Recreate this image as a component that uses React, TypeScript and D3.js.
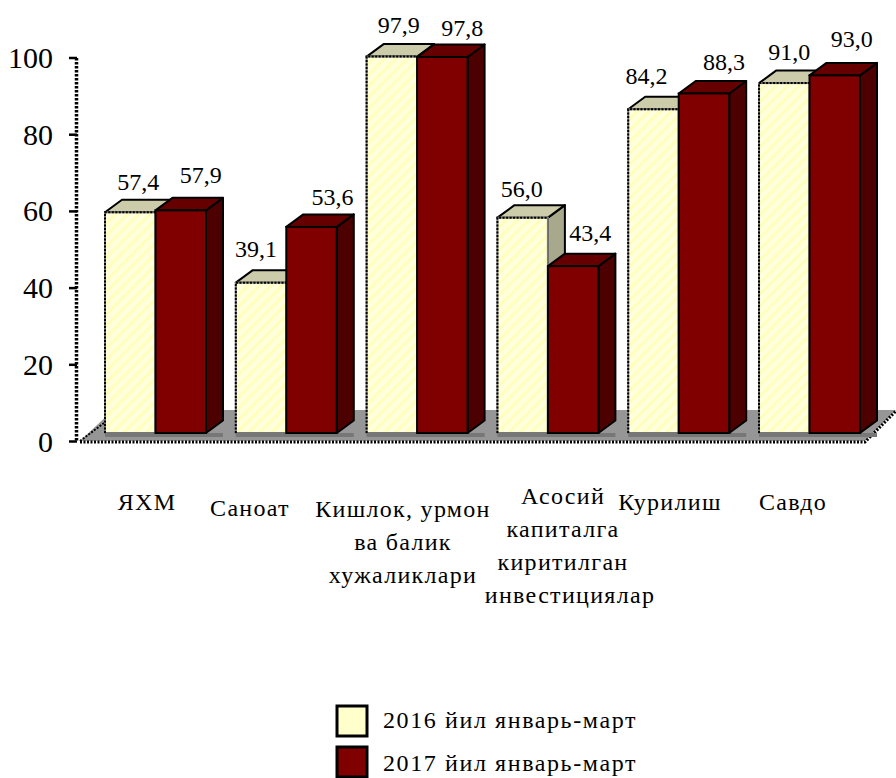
import React from 'react';
import * as d3 from 'd3';

const categories = ['ЯХМ', 'Саноат', 'Кишлок, урмон|ва балик|хужаликлари', 'Асосий|капиталга|киритилган|инвестициялар', 'Курилиш', 'Савдо'];
const values2016 = [57.4, 39.1, 97.9, 56.0, 84.2, 91.0];
const values2017 = [57.9, 53.6, 97.8, 43.4, 88.3, 93.0];
const seriesNames = ['2016 йил январь-март', '2017 йил январь-март'];
const yTicks = [0, 20, 40, 60, 80, 100];
const labelDx = [[8, 20], [-5, 21], [7, 20], [-1, 17], [-7, 20], [5, 17]];
const labelDy = [[-22, -27], [-26, -22], [-24, -21], [-21, -25], [-25, -23], [-23, -28]];
const catCenters = [147, 250, 403, 563, 670, 793];
const catTop = [510, 516, 517, 504, 510, 510];

const F = '"Liberation Serif", serif';
const fmt = (v: number) => v.toFixed(1).replace('.', ',');

export default function App() {
  const x = d3.scaleBand<string>().domain(categories).range([105, 860]).paddingInner(0.228).paddingOuter(0);
  const yBar = d3.scaleLinear().domain([0, 100]).range([433, 48.5]);
  const yAxis = d3.scaleLinear().domain([0, 100]).range([441.5, 58]);
  const dx = 17, dy = 12.5;
  const bw = x.bandwidth() / 2;
  const colors = [
    { front: 'url(#hatch)', top: '#CCCCAA', side: '#A8A88C' },
    { front: '#800000', top: '#660000', side: '#4D0000' },
  ];
  const bar = (bx: number, v: number, s: number, key: string) => {
    const y0 = yBar(0), y1 = yBar(v), c = colors[s];
    const edge = { stroke: '#000', strokeWidth: 2 };
    return (
      <g key={key}>
        <polygon points={`${bx + bw},${y1} ${bx + bw + dx},${y1 - dy} ${bx + bw + dx},${y0 - dy} ${bx + bw},${y0}`} fill={c.side} {...edge} strokeLinejoin="round" />
        <polygon points={`${bx},${y1} ${bx + dx},${y1 - dy} ${bx + bw + dx},${y1 - dy} ${bx + bw},${y1}`} fill={c.top} {...edge} strokeLinejoin="round" />
        <rect x={bx} y={y1} width={bw} height={y0 - y1} fill={c.front} stroke={s === 0 ? '#777' : '#000'} strokeWidth={2} />
        {s === 0 && <path d={`M${bx},${y0} V${y1} H${bx + bw}`} fill="none" stroke="#000" strokeWidth={2} strokeDasharray="2 1.5" />}
      </g>
    );
  };
  return (
    <svg width={896} height={778} style={{ position: 'absolute', left: 0, top: 0, background: '#fff' }}>
      <defs>
        <pattern id="hatch" width="8" height="8" patternUnits="userSpaceOnUse" patternTransform="rotate(45)">
          <rect width="8" height="8" fill="#FFFFDD" />
          <rect width="3" height="8" fill="#FFFFBB" />
        </pattern>
      </defs>
      <polygon points="80,441 113,410 896,410 865,441" fill="#969696" />
      <path d="M80,442 H865 L896,411" fill="none" stroke="#000" strokeWidth={3} strokeDasharray="2 1.5" />
      <path d="M80,441 L104,423" fill="none" stroke="#000" strokeWidth={2} strokeDasharray="2 1.5" />
      <line x1={76.5} x2={76.5} y1={yAxis(100)} y2={yAxis(0)} stroke="#000" strokeWidth={3.5} strokeDasharray="2.5 1.5" />
      {yTicks.map(t => (
        <g key={t}>
          <line x1={69} x2={77} y1={yAxis(t)} y2={yAxis(t)} stroke="#000" strokeWidth={2.5} />
          <text x={53} y={yAxis(t) + 10} textAnchor="end" fontFamily={F} fontSize={30}>{t}</text>
        </g>
      ))}
      {categories.map((c, i) => {
        const bx = x(c)!;
        const lines = c.split('|');
        return (
          <g key={c}>
            <rect x={bx} y={yBar(0)} width={bw * 2 + dx} height={4} fill="#777" />
            {bar(bx, values2016[i], 0, 'a')}
            {bar(bx + bw, values2017[i], 1, 'b')}
            <text x={bx + bw / 2 + labelDx[i][0]} y={yBar(values2016[i]) + labelDy[i][0]} textAnchor="middle" fontFamily={F} fontSize={24}>{fmt(values2016[i])}</text>
            <text x={bx + bw * 1.5 + labelDx[i][1]} y={yBar(values2017[i]) + labelDy[i][1]} textAnchor="middle" fontFamily={F} fontSize={24}>{fmt(values2017[i])}</text>
            {lines.map((ln, j) => (
              <text key={j} x={catCenters[i] + (j === 3 ? 7 : 0)} y={catTop[i] + j * 33} textAnchor="middle" fontFamily={F} fontSize={24} letterSpacing={1.3}>{ln}</text>
            ))}
          </g>
        );
      })}
      {seriesNames.map((s, i) => (
        <g key={s}>
          <rect x={337} y={706 + i * 41} width={30} height={30} fill={i === 0 ? '#FFFFCC' : '#800000'} stroke="#000" strokeWidth={3} />
          <text x={383} y={728 + i * 43} fontFamily={F} fontSize={24} letterSpacing={1.6}>{s}</text>
        </g>
      ))}
    </svg>
  );
}
